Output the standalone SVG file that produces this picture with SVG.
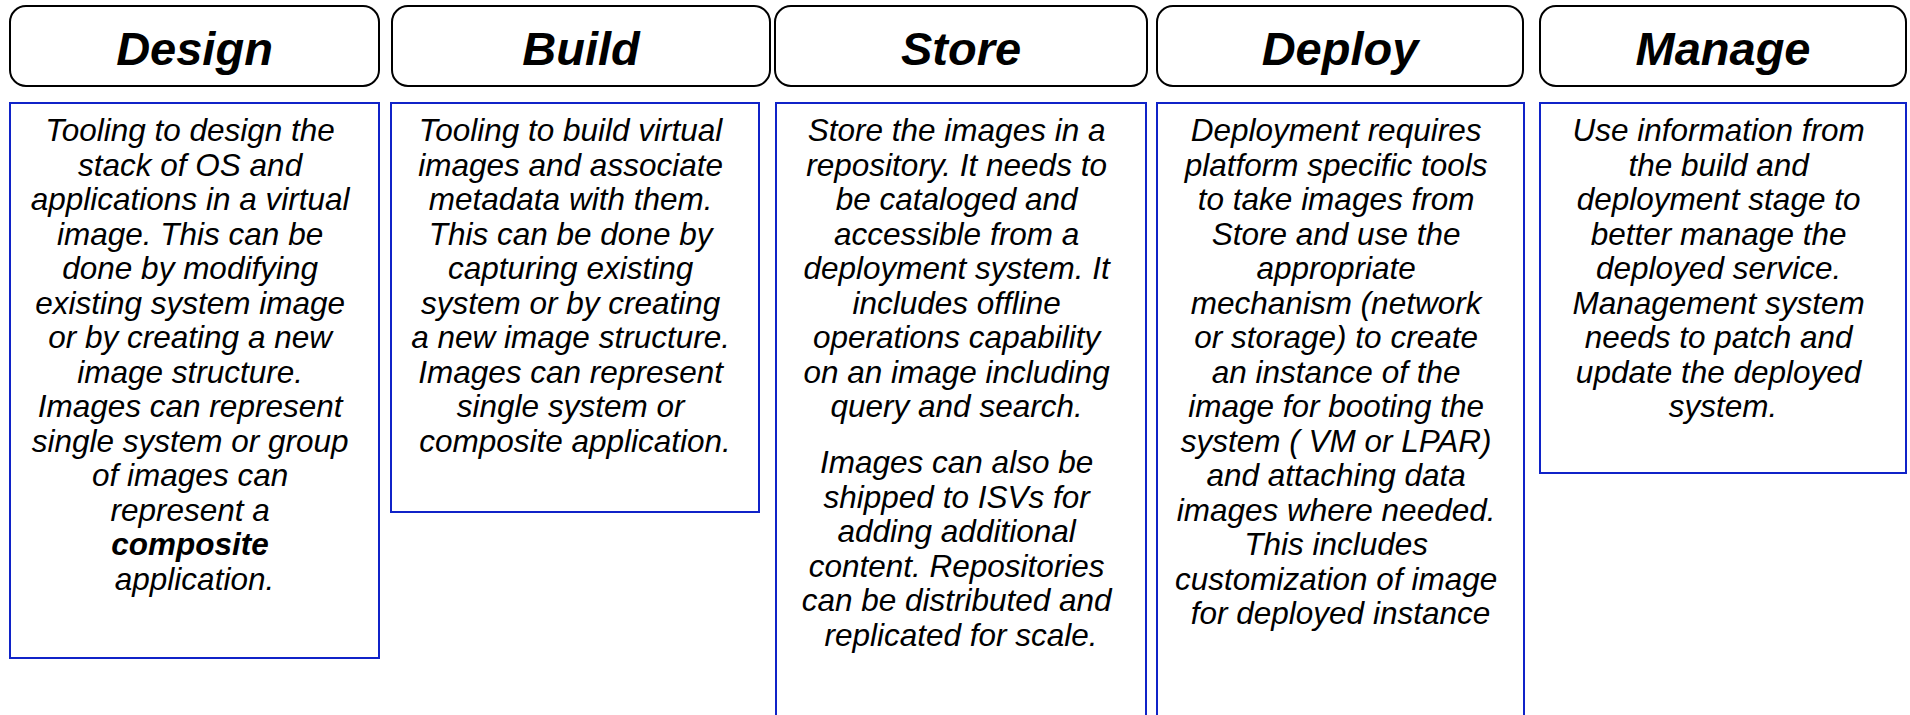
<svg xmlns="http://www.w3.org/2000/svg" width="1910" height="715" viewBox="0 0 1910 715">
  <style>
    .hdr { fill: #ffffff; stroke: #000000; stroke-width: 2; }
    .hdr-text { font-family: "Liberation Sans", Arial, sans-serif; font-size: 47px; font-weight: bold; font-style: italic; fill: #000000; text-anchor: middle; }
    .desc { fill: #ffffff; stroke: #1023c8; stroke-width: 2; }
    .body { font-family: "Liberation Sans", Arial, sans-serif; font-size: 31.5px; font-style: italic; fill: #000000; text-anchor: middle; }
    .strong { font-weight: bold; }
  </style>
  <rect width="1910" height="715" fill="#ffffff"/>

  <!-- Stage: Design -->
  <g id="design">
    <rect class="hdr" x="10" y="6" width="369" height="80" rx="16"/>
    <text class="hdr-text" x="194.5" y="65">Design</text>
    <rect class="desc" x="10" y="103" width="369" height="555"/>
    <text class="body" x="194.5" y="141">
      <tspan x="194.5" dy="0">Tooling to design the</tspan>
      <tspan x="194.5" dy="34.5">stack of OS and</tspan>
      <tspan x="194.5" dy="34.5">applications in a virtual</tspan>
      <tspan x="194.5" dy="34.5">image. This can be</tspan>
      <tspan x="194.5" dy="34.5">done by modifying</tspan>
      <tspan x="194.5" dy="34.5">existing system image</tspan>
      <tspan x="194.5" dy="34.5">or by creating a new</tspan>
      <tspan x="194.5" dy="34.5">image structure.</tspan>
      <tspan x="194.5" dy="34.5">Images can represent</tspan>
      <tspan x="194.5" dy="34.5">single system or group</tspan>
      <tspan x="194.5" dy="34.5">of images can</tspan>
      <tspan x="194.5" dy="34.5">represent a</tspan>
      <tspan x="194.5" dy="34.5" class="strong">composite</tspan>
      <tspan x="194.5" dy="34.5">application.</tspan>
    </text>
  </g>

  <!-- Stage: Build -->
  <g id="build">
    <rect class="hdr" x="392" y="6" width="378" height="80" rx="16"/>
    <text class="hdr-text" x="581" y="65">Build</text>
    <rect class="desc" x="391" y="103" width="368" height="409"/>
    <text class="body" x="575" y="141">
      <tspan x="575" dy="0">Tooling to build virtual</tspan>
      <tspan x="575" dy="34.5">images and associate</tspan>
      <tspan x="575" dy="34.5">metadata with them.</tspan>
      <tspan x="575" dy="34.5">This can be done by</tspan>
      <tspan x="575" dy="34.5">capturing existing</tspan>
      <tspan x="575" dy="34.5">system or by creating</tspan>
      <tspan x="575" dy="34.5">a new image structure.</tspan>
      <tspan x="575" dy="34.5">Images can represent</tspan>
      <tspan x="575" dy="34.5">single system or</tspan>
      <tspan x="575" dy="34.5">composite application.</tspan>
    </text>
  </g>

  <!-- Stage: Store -->
  <g id="store">
    <rect class="hdr" x="775" y="6" width="372" height="80" rx="16"/>
    <text class="hdr-text" x="961" y="65">Store</text>
    <rect class="desc" x="776" y="103" width="370" height="640"/>
    <text class="body" x="961" y="141">
      <tspan x="961" dy="0">Store the images in a</tspan>
      <tspan x="961" dy="34.5">repository. It needs to</tspan>
      <tspan x="961" dy="34.5">be cataloged and</tspan>
      <tspan x="961" dy="34.5">accessible from a</tspan>
      <tspan x="961" dy="34.5">deployment system. It</tspan>
      <tspan x="961" dy="34.5">includes offline</tspan>
      <tspan x="961" dy="34.5">operations capability</tspan>
      <tspan x="961" dy="34.5">on an image including</tspan>
      <tspan x="961" dy="34.5">query and search.</tspan>
      <tspan x="961" dy="56">Images can also be</tspan>
      <tspan x="961" dy="34.5">shipped to ISVs for</tspan>
      <tspan x="961" dy="34.5">adding additional</tspan>
      <tspan x="961" dy="34.5">content. Repositories</tspan>
      <tspan x="961" dy="34.5">can be distributed and</tspan>
      <tspan x="961" dy="34.5">replicated for scale.</tspan>
    </text>
  </g>

  <!-- Stage: Deploy -->
  <g id="deploy">
    <rect class="hdr" x="1157" y="6" width="366" height="80" rx="16"/>
    <text class="hdr-text" x="1340" y="65">Deploy</text>
    <rect class="desc" x="1157" y="103" width="367" height="640"/>
    <text class="body" x="1340.5" y="141">
      <tspan x="1340.5" dy="0">Deployment requires</tspan>
      <tspan x="1340.5" dy="34.5">platform specific tools</tspan>
      <tspan x="1340.5" dy="34.5">to take images from</tspan>
      <tspan x="1340.5" dy="34.5">Store and use the</tspan>
      <tspan x="1340.5" dy="34.5">appropriate</tspan>
      <tspan x="1340.5" dy="34.5">mechanism (network</tspan>
      <tspan x="1340.5" dy="34.5">or storage) to create</tspan>
      <tspan x="1340.5" dy="34.5">an instance of the</tspan>
      <tspan x="1340.5" dy="34.5">image for booting the</tspan>
      <tspan x="1340.5" dy="34.5">system ( VM or LPAR)</tspan>
      <tspan x="1340.5" dy="34.5">and attaching data</tspan>
      <tspan x="1340.5" dy="34.5">images where needed.</tspan>
      <tspan x="1340.5" dy="34.5">This includes</tspan>
      <tspan x="1340.5" dy="34.5">customization of image</tspan>
      <tspan x="1340.5" dy="34.5">for deployed instance</tspan>
    </text>
  </g>

  <!-- Stage: Manage -->
  <g id="manage">
    <rect class="hdr" x="1540" y="6" width="366" height="80" rx="16"/>
    <text class="hdr-text" x="1723" y="65">Manage</text>
    <rect class="desc" x="1540" y="103" width="366" height="370"/>
    <text class="body" x="1723" y="141">
      <tspan x="1723" dy="0">Use information from</tspan>
      <tspan x="1723" dy="34.5">the build and</tspan>
      <tspan x="1723" dy="34.5">deployment stage to</tspan>
      <tspan x="1723" dy="34.5">better manage the</tspan>
      <tspan x="1723" dy="34.5">deployed service.</tspan>
      <tspan x="1723" dy="34.5">Management system</tspan>
      <tspan x="1723" dy="34.5">needs to patch and</tspan>
      <tspan x="1723" dy="34.5">update the deployed</tspan>
      <tspan x="1723" dy="34.5">system.</tspan>
    </text>
  </g>

  <!-- No connectors between stages -->
  <g id="connectors"/>
</svg>
